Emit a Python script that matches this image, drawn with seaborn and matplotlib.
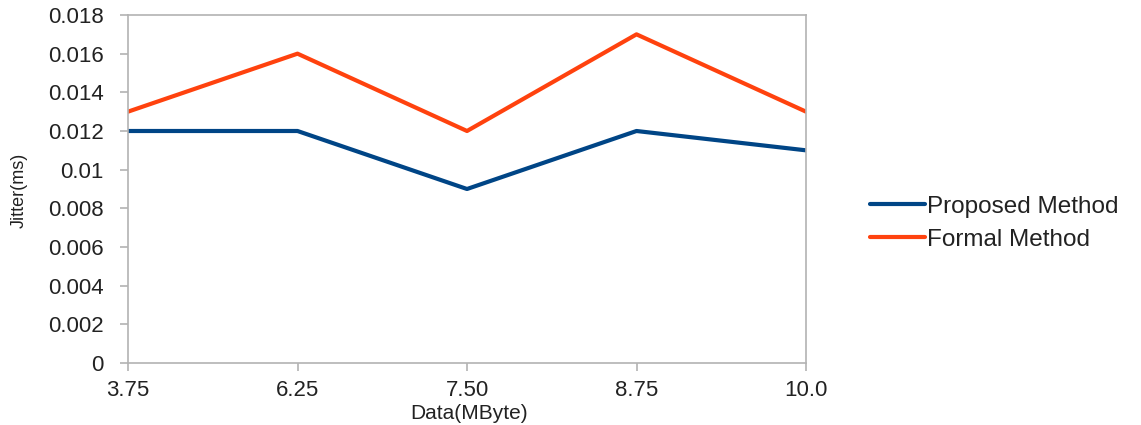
import matplotlib
matplotlib.use("Agg")
import matplotlib.pyplot as plt
import seaborn as sns
import pandas as pd

# Data sizes (MByte) and measured jitter (ms)
data_sizes = ["3.75", "6.25", "7.50", "8.75", "10.0"]
proposed_jitter = [0.012, 0.012, 0.009, 0.012, 0.011]
formal_jitter = [0.013, 0.016, 0.012, 0.017, 0.013]
series_names = ["Proposed Method", "Formal Method"]
y_ticks = [0, 0.002, 0.004, 0.006, 0.008, 0.01, 0.012, 0.014, 0.016, 0.018]
y_tick_labels = ["0", "0.002", "0.004", "0.006", "0.008", "0.01",
                 "0.012", "0.014", "0.016", "0.018"]

sns.set_theme(style="white")
plt.rcParams["font.family"] = ["Liberation Sans", "DejaVu Sans"]

positions = list(range(len(data_sizes)))
df = pd.DataFrame({
    "pos": positions * 2,
    "jitter": proposed_jitter + formal_jitter,
    "method": [series_names[0]] * len(positions) + [series_names[1]] * len(positions),
})

fig = plt.figure(figsize=(11.41, 4.25), dpi=100)
ax = fig.add_axes([0.1122, 0.1459, 0.5942, 0.8188])

palette = {series_names[0]: "#004586", series_names[1]: "#ff420e"}
sns.lineplot(data=df, x="pos", y="jitter", hue="method", hue_order=series_names,
             palette=palette, linewidth=3, ax=ax, legend=True)

ax.set_xlim(positions[0], positions[-1])
ax.set_ylim(0, 0.018)
ax.set_xticks(positions)
ax.set_xticklabels(data_sizes)
ax.set_yticks(y_ticks)
ax.set_yticklabels(y_tick_labels)

grey = "#b3b3b3"
text_color = "#222222"
for side in ["left", "bottom", "top", "right"]:
    ax.spines[side].set_visible(True)
    ax.spines[side].set_color(grey)
    ax.spines[side].set_linewidth(1.2)

ax.tick_params(axis="both", which="both", direction="out", length=5.5, width=1.2,
               color=grey, labelsize=16, labelcolor=text_color,
               left=True, bottom=True)
ax.tick_params(axis="y", pad=12)
ax.tick_params(axis="x", pad=7)
ax.grid(False)

ax.set_xlabel("Data(MByte)", fontsize=15, color=text_color, va="center")
ax.xaxis.set_label_coords(0.503, -0.144)
ax.set_ylabel("Jitter(ms)", fontsize=13, color=text_color, va="center")
ax.yaxis.set_label_coords(-0.160, 0.497)

leg = ax.legend(loc="center left", bbox_to_anchor=(0.7625, 0.475),
                bbox_transform=fig.transFigure, frameon=False,
                fontsize=17.5, handlelength=2.25, handletextpad=0.1,
                labelspacing=0.45, borderpad=0, borderaxespad=0)
for txt in leg.get_texts():
    txt.set_color(text_color)
for line in leg.get_lines():
    line.set_linewidth(3)

fig.savefig("out.png", dpi=100)
